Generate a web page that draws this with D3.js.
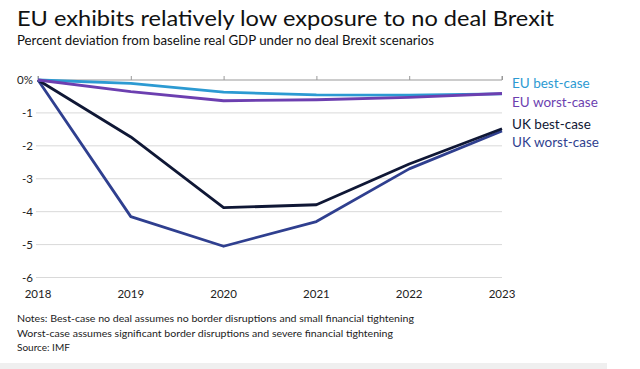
<!DOCTYPE html>
<html><head><meta charset="utf-8">
<script src="https://cdn.jsdelivr.net/npm/d3@7"></script>
<style>body{margin:0;background:#fff;} svg{display:block;font-family:Lato,"Open Sans",sans-serif;}</style>
</head><body><svg id="c" width="640" height="369"></svg>
<script>
const years = [2018, 2019, 2020, 2021, 2022, 2023];
const yTicks = [0, -1, -2, -3, -4, -5, -6];
const euBest = [0, -0.1, -0.37, -0.45, -0.46, -0.42];
const euWorst = [0, -0.35, -0.63, -0.6, -0.53, -0.41];
const ukBest = [0, -1.73, -3.88, -3.79, -2.55, -1.48];
const ukWorst = [0, -4.15, -5.05, -4.3, -2.7, -1.55];
const seriesNames = ["UK worst-case", "UK best-case", "EU best-case", "EU worst-case"];
const seriesData = [ukWorst, ukBest, euBest, euWorst];
const seriesColors = ["#2f3f8f", "#0f1735", "#2c9ad2", "#6c3fb0"];
const legendOrder = ["EU best-case", "EU worst-case", "UK best-case", "UK worst-case"];

const svg = d3.select("#c");
const x = d3.scalePoint().domain(years).range([38, 502]);
const y = d3.scaleLinear().domain([-6, 0]).range([277.5, 80]);

svg.append("text").attr("x", 17).attr("y", 26).attr("font-size", 22).attr("fill", "#111")
  .attr("textLength", 537).attr("lengthAdjust", "spacingAndGlyphs")
  .text("EU exhibits relatively low exposure to no deal Brexit");
svg.append("text").attr("x", 17).attr("y", 45).attr("font-size", 12.5).attr("fill", "#111")
  .attr("textLength", 417).attr("lengthAdjust", "spacingAndGlyphs")
  .text("Percent deviation from baseline real GDP under no deal Brexit scenarios");

// gridlines
svg.append("g").selectAll("line").data(yTicks.filter(d => d !== 0)).join("line")
  .attr("x1", 36).attr("x2", 502).attr("y1", d => y(d)).attr("y2", d => y(d))
  .attr("stroke", "#d9d9d9").attr("stroke-width", 1);

// zero axis with upward ticks
const xAxis = d3.axisTop(x).tickSize(4).tickFormat("");
const ax = svg.append("g").attr("transform", `translate(0,${y(0)})`).call(xAxis);
ax.select(".domain").attr("stroke", "#999").attr("d", `M38,-4V0H502V-4`);
ax.selectAll(".tick line").attr("stroke", "#999");

// y labels
const yAxis = d3.axisLeft(y).tickValues(yTicks).tickSize(0).tickPadding(4)
  .tickFormat(d => d === 0 ? "0%" : d3.format("")(d).replace("−", "-"));
const ya = svg.append("g").attr("transform", "translate(37,0)").call(yAxis);
ya.select(".domain").remove();
ya.selectAll("text").attr("font-size", 11.5).attr("fill", "#222").attr("font-family", "Lato, sans-serif");

// x labels
svg.append("g").selectAll("text").data(years).join("text")
  .attr("x", d => x(d)).attr("y", 298).attr("text-anchor", "middle")
  .attr("font-size", 11.5).attr("fill", "#222").text(d => d);

// lines
const line = d3.line().x((d, i) => x(years[i])).y(d => y(d));
svg.append("g").selectAll("path").data(seriesData).join("path")
  .attr("d", d => line(d)).attr("fill", "none")
  .attr("stroke", (d, i) => seriesColors[i]).attr("stroke-width", 2.8)
  .attr("stroke-linejoin", "round");

// legend
const legY = [83, 102, 124, 142];
svg.append("g").selectAll("text").data(legendOrder).join("text")
  .attr("x", 512).attr("y", (d, i) => legY[i] + 4.5)
  .attr("font-size", 13.5)
  .attr("fill", d => seriesColors[seriesNames.indexOf(d)])
  .text(d => d);

// notes
const notes = ["Notes: Best-case no deal assumes no border disruptions and small financial tightening",
  "Worst-case assumes significant border disruptions and severe financial tightening",
  "Source: IMF"];
const noteW = [397, 376, null];
svg.append("g").selectAll("text").data(notes).join("text")
  .attr("x", 17).attr("y", (d, i) => 322 + i * 14.5).attr("font-size", 10).attr("fill", "#222")
  .each(function(d, i) { if (noteW[i]) d3.select(this).attr("textLength", noteW[i]).attr("lengthAdjust", "spacingAndGlyphs"); })
  .text(d => d);

svg.append("rect").attr("x", 0).attr("y", 363).attr("width", 607).attr("height", 6).attr("fill", "#efefef");
</script></body></html>
